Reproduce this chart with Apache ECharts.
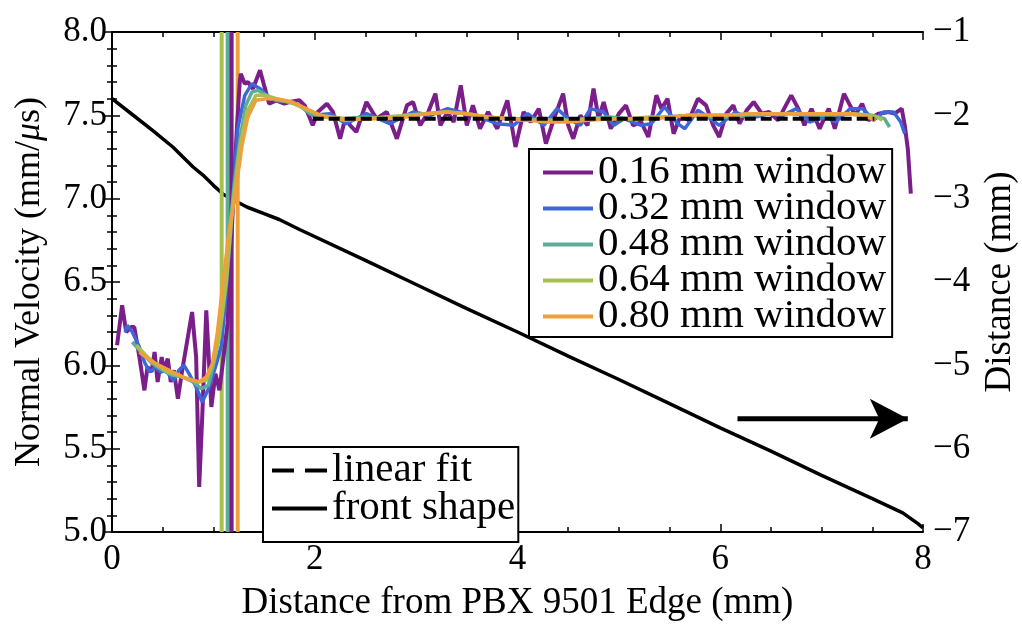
<!DOCTYPE html>
<html><head><meta charset="utf-8">
<script src="https://cdn.jsdelivr.net/npm/echarts@6/dist/echarts.min.js"></script>
<style>html,body{margin:0;padding:0;background:#fff}#c{width:1022px;height:626px}</style>
</head><body><div id="c"></div>
<script>
const FONT = 'Liberation Serif';
const seriesNames = ['0.16 mm window','0.32 mm window','0.48 mm window','0.64 mm window','0.80 mm window'];
const seriesColors = ['#7a1f8a','#3f66d8','#5dac96','#a9c04f','#eea03a'];

const x016 = [0.05,0.10,0.14,0.19,0.22,0.27,0.32,0.35,0.39,0.42,0.45,0.49,0.51,0.55,0.58,0.61,0.65,0.69,0.74,0.79,0.83,0.86,0.89,0.93,0.98,1.02,1.06,1.10,1.14,1.17,1.20,1.23,1.26,1.27,1.31,1.34,1.39,1.46,1.50,1.55,1.62,1.70,1.75,1.85,1.90,1.98,2.03,2.12,2.18,2.25,2.30,2.35,2.41,2.51,2.61,2.71,2.81,2.91,2.97,3.04,3.12,3.19,3.24,3.31,3.37,3.44,3.50,3.56,3.63,3.71,3.80,3.90,3.98,4.06,4.13,4.21,4.28,4.36,4.45,4.50,4.55,4.62,4.69,4.75,4.80,4.85,4.92,5.00,5.07,5.14,5.22,5.29,5.37,5.42,5.48,5.54,5.61,5.69,5.78,5.86,5.93,5.99,6.06,6.13,6.19,6.26,6.33,6.41,6.48,6.57,6.63,6.70,6.77,6.83,6.90,6.98,7.07,7.13,7.22,7.28,7.33,7.40,7.46,7.56,7.66,7.72,7.79,7.82,7.85,7.88];
const v016 = [6.12,6.36,6.20,6.23,6.23,6.05,5.85,5.99,5.96,6.08,5.90,6.05,5.97,6.04,5.90,5.97,5.80,5.96,6.14,6.32,6.05,5.27,5.69,6.33,5.75,5.95,5.85,6.05,6.25,6.65,7.05,7.40,7.70,7.75,7.69,7.70,7.66,7.77,7.68,7.57,7.59,7.57,7.58,7.59,7.56,7.44,7.52,7.57,7.52,7.36,7.48,7.44,7.40,7.58,7.48,7.52,7.36,7.56,7.58,7.44,7.52,7.63,7.44,7.52,7.46,7.68,7.44,7.56,7.42,7.52,7.42,7.59,7.31,7.52,7.46,7.54,7.33,7.48,7.63,7.44,7.36,7.50,7.44,7.66,7.48,7.58,7.42,7.51,7.56,7.44,7.46,7.37,7.62,7.54,7.60,7.39,7.50,7.47,7.60,7.56,7.44,7.37,7.51,7.56,7.45,7.53,7.58,7.51,7.52,7.47,7.54,7.62,7.54,7.44,7.54,7.42,7.54,7.42,7.63,7.56,7.50,7.57,7.47,7.51,7.52,7.51,7.54,7.44,7.30,7.03];

const x032 = [0.13,0.15,0.20,0.27,0.32,0.37,0.43,0.48,0.53,0.58,0.61,0.66,0.71,0.76,0.83,0.89,0.96,1.03,1.08,1.12,1.18,1.24,1.31,1.38,1.46,1.55,1.65,1.75,1.85,1.98,2.15,2.31,2.51,2.74,2.97,3.14,3.31,3.50,3.63,3.80,3.96,4.10,4.26,4.39,4.50,4.62,4.72,4.85,4.95,5.05,5.22,5.32,5.45,5.58,5.65,5.78,5.88,5.99,6.15,6.29,6.48,6.62,6.75,6.88,7.04,7.14,7.28,7.41,7.51,7.61,7.71,7.78,7.82];
const v032 = [6.20,6.24,6.20,6.11,6.02,5.96,5.99,5.96,5.97,5.93,5.91,5.97,6.00,5.95,5.87,5.78,5.87,6.01,6.12,6.40,6.88,7.42,7.62,7.69,7.66,7.61,7.59,7.58,7.56,7.50,7.51,7.45,7.51,7.45,7.52,7.50,7.54,7.51,7.49,7.45,7.44,7.51,7.44,7.54,7.48,7.44,7.54,7.52,7.44,7.48,7.44,7.45,7.55,7.45,7.42,7.53,7.49,7.44,7.52,7.48,7.51,7.50,7.54,7.46,7.49,7.46,7.54,7.54,7.47,7.52,7.52,7.46,7.39];

const x048 = [0.20,0.30,0.40,0.50,0.60,0.70,0.80,0.88,0.95,1.02,1.08,1.14,1.20,1.26,1.32,1.38,1.44,1.52,1.62,1.75,1.85,1.95,2.10,2.30,2.50,2.70,2.90,3.10,3.30,3.50,3.70,3.90,4.10,4.30,4.50,4.70,4.90,5.10,5.30,5.50,5.70,5.90,6.10,6.30,6.50,6.70,6.90,7.10,7.30,7.50,7.62,7.67];
const v048 = [6.14,6.07,6.01,5.97,5.94,5.93,5.90,5.86,5.88,6.05,6.30,6.70,7.05,7.35,7.56,7.64,7.65,7.62,7.59,7.58,7.56,7.51,7.49,7.48,7.49,7.48,7.50,7.51,7.52,7.51,7.49,7.48,7.48,7.47,7.47,7.48,7.49,7.48,7.48,7.49,7.50,7.49,7.49,7.50,7.51,7.51,7.50,7.50,7.51,7.50,7.48,7.43];

const x064 = [0.24,0.35,0.45,0.55,0.65,0.75,0.85,0.93,1.00,1.06,1.13,1.19,1.26,1.33,1.42,1.52,1.62,1.75,1.90,2.05,2.30,2.50,2.70,2.90,3.10,3.30,3.50,3.70,3.90,4.10,4.30,4.50,4.70,4.90,5.10,5.30,5.50,5.70,5.90,6.10,6.30,6.50,6.70,6.90,7.10,7.30,7.45,7.55,7.60];
const v064 = [6.12,6.05,6.00,5.96,5.94,5.92,5.90,5.91,6.02,6.17,6.51,6.95,7.31,7.52,7.62,7.62,7.60,7.58,7.54,7.50,7.48,7.48,7.49,7.50,7.51,7.52,7.51,7.49,7.48,7.47,7.47,7.47,7.48,7.48,7.48,7.49,7.49,7.50,7.50,7.50,7.51,7.51,7.51,7.51,7.51,7.51,7.50,7.49,7.47];

const x080 = [0.27,0.40,0.53,0.63,0.73,0.86,0.93,0.99,1.04,1.09,1.16,1.21,1.28,1.34,1.42,1.52,1.62,1.78,1.95,2.10,2.30,2.50,2.70,2.90,3.10,3.30,3.50,3.70,3.90,4.10,4.30,4.50,4.70,4.90,5.10,5.30,5.50,5.70,5.90,6.10,6.30,6.50,6.70,6.90,7.10,7.30,7.45,7.53];
const v080 = [6.08,6.02,5.98,5.95,5.92,5.90,5.93,6.01,6.20,6.47,6.83,7.00,7.31,7.49,7.59,7.60,7.60,7.58,7.53,7.49,7.47,7.48,7.48,7.49,7.51,7.52,7.51,7.49,7.48,7.47,7.46,7.46,7.47,7.48,7.48,7.48,7.49,7.50,7.50,7.50,7.51,7.51,7.51,7.51,7.51,7.51,7.49,7.47];

const windowEdgeX = [1.16, 1.141, 1.180, 1.082, 1.240];   // blue, teal, purple, green, orange
const windowEdgeIdx = [1, 2, 0, 3, 4];

const fitX = [1.98, 7.52];
const fitV = [7.48, 7.48];

const frontX = [0,0.2,0.4,0.6,0.8,0.9,1.0,1.1,1.19,1.33,1.5,1.65,1.85,2.5,3.0,3.5,4.0,4.5,5.0,5.5,6.0,6.5,7.0,7.5,7.8,7.95,8.0];
const frontD = [-1.80,-1.99,-2.18,-2.38,-2.62,-2.72,-2.84,-2.95,-3.01,-3.10,-3.18,-3.25,-3.37,-3.74,-4.03,-4.32,-4.60,-4.89,-5.17,-5.46,-5.75,-6.03,-6.32,-6.60,-6.77,-6.90,-6.95];

const arrowX = [6.17, 7.85];
const arrowD = -5.64;

const zip = (xs, ys) => xs.map((x, i) => [x, ys[i]]);
const velX = [x016, x032, x048, x064, x080];
const velV = [v016, v032, v048, v064, v080];

const series = [];
series.push({
  name: 'front shape', type: 'line', yAxisIndex: 1, data: zip(frontX, frontD),
  symbol: 'none', lineStyle: {color: '#000', width: 3.5}, itemStyle: {color: '#000'}, z: 2
});
windowEdgeX.forEach((x, i) => {
  const c = seriesColors[windowEdgeIdx[i]];
  series.push({type: 'line', data: [[x, 5], [x, 8]], symbol: 'none', silent: true,
    lineStyle: {color: c, width: 4}, z: 3});
});
seriesNames.forEach((n, i) => {
  series.push({name: n, type: 'line', data: zip(velX[i], velV[i]), symbol: 'none',
    lineStyle: {color: seriesColors[i], width: i === 0 ? 4 : 3.5}, itemStyle: {color: seriesColors[i]}, z: 4});
});
series.push({
  name: 'linear fit', type: 'line', data: zip(fitX, fitV), symbol: 'none',
  lineStyle: {color: '#000', width: 4, type: [11, 5]}, itemStyle: {color: '#000'}, z: 6
});
series.push({
  type: 'line', yAxisIndex: 1, silent: true, showSymbol: true, z: 6,
  data: [{value: [arrowX[0], arrowD], symbol: 'none'},
         {value: [arrowX[1], arrowD], symbol: 'arrow', symbolSize: [30, 38], symbolRotate: -90}],
  lineStyle: {color: '#000', width: 5}, itemStyle: {color: '#000'}
});

const tickBase = {fontFamily: FONT, color: '#000', fontSize: 35};
const axLine = {show: true, lineStyle: {color: '#000', width: 2}};
const hiddenSym = {color: 'rgba(0,0,0,0)', borderColor: 'rgba(0,0,0,0)', borderWidth: 0, opacity: 0};

const option = {
  animation: false,
  backgroundColor: '#fff',
  grid: {left: 112, right: 99, top: 32, bottom: 94, containLabel: false, outerBoundsMode: 'none'},
  xAxis: [{
    type: 'value', min: 0, max: 8, interval: 2, position: 'bottom',
    axisLine: axLine, splitLine: {show: false},
    axisTick: {show: true, inside: true, length: 8, lineStyle: {color: '#000', width: 1.5}},
    minorTick: {show: true, splitNumber: 4, length: 5, lineStyle: {color: '#000', width: 1.5}},
    axisLabel: Object.assign({margin: 10}, tickBase),
    name: 'Distance from PBX 9501 Edge (mm)', nameLocation: 'middle', nameGap: 53, nameMoveOverlap: false,
    nameTextStyle: {fontFamily: FONT, color: '#000', fontSize: 37}
  }, {
    type: 'value', min: 0, max: 8, interval: 2, position: 'top',
    axisLine: axLine, splitLine: {show: false},
    axisTick: {show: true, inside: true, length: 8, lineStyle: {color: '#000', width: 1.5}},
    minorTick: {show: true, splitNumber: 4, length: 5, lineStyle: {color: '#000', width: 1.5}},
    axisLabel: {show: false}
  }],
  yAxis: [{
    type: 'value', min: 5, max: 8, interval: 0.5, position: 'left',
    axisLine: axLine, splitLine: {show: false},
    axisTick: {show: true, inside: true, length: 8, lineStyle: {color: '#000', width: 1.5}},
    minorTick: {show: true, splitNumber: 5, length: 5, lineStyle: {color: '#000', width: 1.5}},
    axisLabel: Object.assign({margin: 5, formatter: v => v.toFixed(1)}, tickBase),
    name: '{a|Normal Velocity (mm/}{i|μ}{a|s)}', nameLocation: 'middle', nameGap: 64, nameRotate: 90,
    nameMoveOverlap: false,
    nameTextStyle: {rich: {
      a: {fontFamily: FONT, color: '#000', fontSize: 36},
      i: {fontFamily: FONT, color: '#000', fontSize: 36, fontStyle: 'italic'}
    }}
  }, {
    type: 'value', min: -7, max: -1, interval: 1, position: 'right',
    axisLine: axLine, splitLine: {show: false},
    axisTick: {show: true, inside: true, length: 8, lineStyle: {color: '#000', width: 1.5}},
    minorTick: {show: true, splitNumber: 5, length: 5, lineStyle: {color: '#000', width: 1.5}},
    axisLabel: Object.assign({margin: 10, formatter: v => '\u2212' + Math.abs(v)}, tickBase),
    name: 'Distance (mm)', nameLocation: 'middle', nameGap: 59, nameRotate: 90, nameMoveOverlap: false,
    nameTextStyle: {fontFamily: FONT, color: '#000', fontSize: 37}
  }],
  legend: [{
    data: seriesNames, orient: 'vertical', left: 529, top: 149,
    itemWidth: 50, itemHeight: 14, itemGap: -5, itemStyle: hiddenSym, lineStyle: {width: 4},
    padding: [3, 6, 0, 12], borderColor: '#000', borderWidth: 2, borderRadius: 0,
    backgroundColor: '#fff', selectedMode: false,
    textStyle: {fontFamily: FONT, color: '#000', fontSize: 41, lineHeight: 36}
  }, {
    data: [{name: 'linear fit', lineStyle: {type: [22, 11]}}, 'front shape'],
    orient: 'vertical', left: 263, top: 447,
    itemWidth: 55, itemHeight: 14, itemGap: -3, itemStyle: hiddenSym, lineStyle: {width: 4},
    padding: [3, 3, 13, 7], borderColor: '#000', borderWidth: 2, borderRadius: 0,
    backgroundColor: '#fff', selectedMode: false,
    textStyle: {fontFamily: FONT, color: '#000', fontSize: 41, lineHeight: 36}
  }],
  series: series
};
const chart = echarts.init(document.getElementById('c'), null, {renderer: 'canvas'});
chart.setOption(option);
</script></body></html>
